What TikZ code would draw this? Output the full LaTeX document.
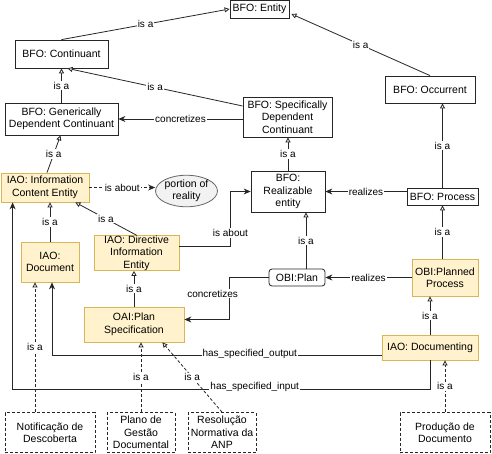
\documentclass[tikz,border=0pt]{standalone}
\usepackage{fontspec}
\setmainfont{Liberation Sans}
\usetikzlibrary{positioning,arrows.meta,calc,shapes.geometric}

\definecolor{noteyellow}{HTML}{FFF2CC}
\definecolor{noteborder}{HTML}{D6B656}
\definecolor{ellfill}{HTML}{F2F2F2}
\definecolor{ellborder}{HTML}{666666}

\begin{document}
\begin{tikzpicture}[x=1pt, y=-1pt,
  box/.style={draw=black!85, line width=0.8pt, fill=white, inner sep=0pt, align=center,
    font=\fontsize{10.5}{12.5}\selectfont},
  iao/.style={box, fill=noteyellow, draw=noteborder},
  inst/.style={box, dash pattern=on 3pt off 2pt},
  lbl/.style={fill=white, inner sep=1pt, font=\fontsize{10}{12}\selectfont},
  isa/.style={draw=black!85, line width=0.8pt, -{Triangle[open, fill=white, length=5pt, width=5pt]}},
  rel/.style={draw=black!85, line width=0.8pt, -{Stealth[length=7pt, width=6pt]}},
  dsh/.style={dash pattern=on 3pt off 2pt}
]
% Page
\useasboundingbox[fill=white] (0,0) rectangle (492,453);
% BFO upper level
\node[box, minimum width=59, minimum height=18] (entity) at (259.5,9) {BFO: Entity};
\node[box, minimum width=93, minimum height=28] (cont) at (61.5,54) {BFO: Continuant};
\node[box, minimum width=90, minimum height=27] (occ) at (430,89.5) {BFO: Occurrent};
\node[box, minimum width=113, minimum height=32] (gdc) at (61.5,119) {BFO: Generically\\Dependent Continuant};
\node[box, minimum width=89, minimum height=40] (sdc) at (287.5,117) {BFO: Specifically\\Dependent\\Continuant};
\node[box, minimum width=74, minimum height=41] (real) at (288,191.5) {BFO:\\Realizable\\entity};
\node[box, minimum width=71, minimum height=17] (proc) at (442.5,196.5) {BFO: Process};
\node[box, rounded corners=3pt, minimum width=56, minimum height=17] (plan) at (297,277.5) {OBI:Plan};
% IAO / OBI classes
\node[iao, minimum width=88, minimum height=29] (ice) at (45,187.5) {IAO: Information\\Content Entity};
\node[ellipse, draw=ellborder, fill=ellfill, line width=0.8pt, inner sep=0pt, align=center,
  font=\fontsize{10.5}{12.5}\selectfont, minimum width=53, minimum height=28] (por) at (186.5,191) {portion of\\reality};
\node[iao, minimum width=58, minimum height=40] (doc) at (50,262) {IAO:\\Document};
\node[iao, minimum width=85, minimum height=34] (die) at (136.5,253) {IAO: Directive\\Information\\Entity};
\node[iao, minimum width=66, minimum height=37] (pp) at (445,277.5) {OBI:Planned\\Process};
\node[iao, minimum width=100, minimum height=35] (spec) at (134,324.5) {OAI:Plan\\Specification};
\node[iao, minimum width=96, minimum height=25] (docg) at (430,347.5) {IAO: Documenting};
% Instances
\node[inst, minimum width=90, minimum height=40] (notif) at (50,432.5) {Notificação de\\Descoberta};
\node[inst, minimum width=68, minimum height=40] (plano) at (141,432.5) {Plano de\\Gestão\\Documental};
\node[inst, minimum width=68, minimum height=40] (resol) at (222,432.5) {Resolução\\Normativa da\\ANP};
\node[inst, minimum width=90, minimum height=40] (prod) at (445,432.5) {Produção de\\Documento};

% is a (subclass) links
\draw[isa] (cont.north) -- node[lbl] {is a} (entity.west);
\draw[isa] (occ.north) -- node[lbl] {is a} ($(entity.east)+(2,5)$);
\draw[isa] (gdc.north) -- node[lbl] {is a} (cont.south);
\draw[isa] ($(sdc.west)+(0,-11)$) -- node[lbl] {is a} ($(cont.south)+(6,0)$);
\draw[isa] ($(ice.north)+(2,0)$) -- node[lbl] {is a} ($(gdc.south)+(-1,0)$);
\draw[isa] (real.north) -- node[lbl] {is a} (real.north |- sdc.south);
\draw[isa] (proc.north) -- node[lbl] {is a} (proc.north |- occ.south);
\draw[isa] (doc.north) -- node[lbl] {is a} (doc.north |- ice.south);
\draw[isa] (die.north) -- node[lbl] {is a} ($(ice.south east)+(-14,0)$);
\coordinate (pltop) at ($(plan.north)+(9,0)$);
\draw[isa] (pltop) -- node[lbl] {is a} (pltop |- real.south);
\draw[isa] (proc.south |- pp.north) -- node[lbl] {is a} (proc.south);
\draw[isa] (spec.north) -- node[lbl] {is a} (spec.north |- die.south);
\draw[isa] (docg.north) -- node[lbl] {is a} (docg.north |- pp.south);
% instances (dashed)
\coordinate (nttop) at ($(notif.north)+(-15,0)$);
\draw[isa, dsh] (nttop) -- node[lbl] {is a} (nttop |- doc.south);
\draw[isa, dsh] (plano.north) -- node[lbl] {is a} (plano.north |- spec.south);
\draw[isa, dsh] (resol.north) -- node[lbl] {is a} ($(spec.south east)+(-22,0)$);
\draw[isa, dsh] (prod.north) -- node[lbl] {is a} (prod.north |- docg.south);

% other relations
\draw[rel] (sdc.west |- gdc.east) -- node[lbl] {concretizes} (gdc.east);
\draw[rel, dsh] (ice.east) -- node[lbl] {is about} (ice.east -| por.west);
\draw[rel] (proc.west |- real.east) -- node[lbl] {realizes} (real.east);
\draw[rel] (pp.west) -- node[lbl] {realizes} (plan.east);
\draw[rel] ($(die.east)+(0,-7)$) -- ++(51,0) |- node[lbl, pos=0.12] {is about} (real.west);
\draw[rel] (plan.west) -- ++(-39,0) |- node[lbl, pos=0.19, xshift=-17pt] {concretizes} ($(spec.east)+(0,-5)$);
\draw[rel] ($(docg.west)+(0,8)$) -| node[lbl, pos=0.2, yshift=2pt] {has\_specified\_output} ($(doc.south)+(2,0)$);
\draw[rel] (docg.south) -- ++(0,29) -| node[lbl, pos=0.21, yshift=2pt] {has\_specified\_input} ($(ice.south west)+(12,0)$);
\end{tikzpicture}
\end{document}
